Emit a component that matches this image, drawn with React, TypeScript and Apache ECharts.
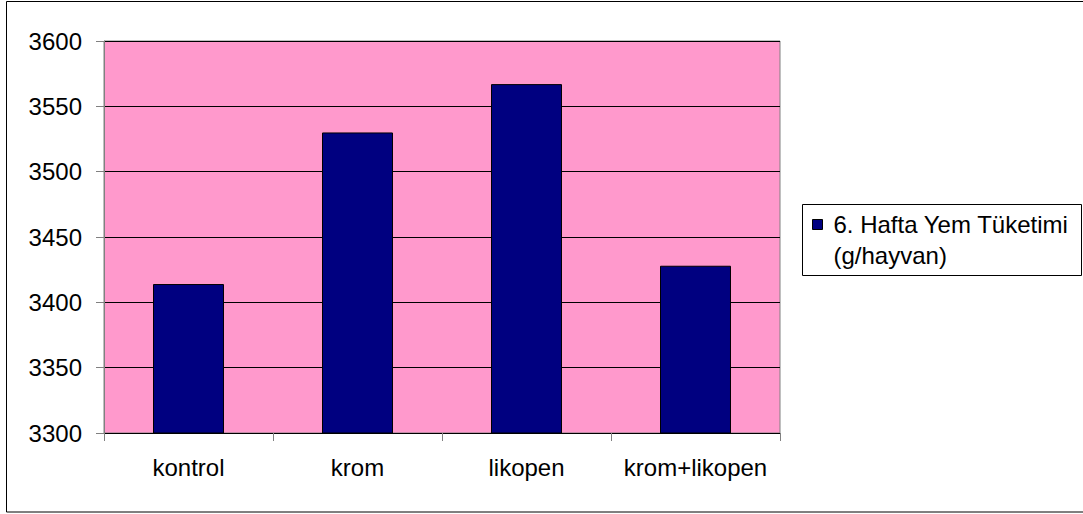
import React, { useEffect, useRef } from "react";
import * as echarts from "echarts";

const categories = ["kontrol", "krom", "likopen", "krom+likopen"];
const seriesName = "6. Hafta Yem Tüketimi (g/hayvan)";
const values = [3414, 3530, 3567, 3428];
const yMin = 3300;
const yMax = 3600;
const yStep = 50;

export default function App() {
  const ref = useRef<HTMLDivElement>(null);
  useEffect(() => {
    if (!ref.current) return;
    const chart = echarts.init(ref.current, undefined, { renderer: "svg" });
    const font = "Liberation Sans, Arial, sans-serif";
    chart.setOption({
      animation: false,
      backgroundColor: "#ffffff",
      grid: {
        left: 104,
        top: 41,
        right: 303,
        bottom: 81,
        show: true,
        backgroundColor: "#FF99CC",
        borderColor: "#808080",
        borderWidth: 1,
      },
      graphic: [
        {
          type: "rect",
          shape: { x: 6.5, y: 1.5, width: 1100, height: 510.5 },
          style: { fill: "none", stroke: "#000", lineWidth: 1 },
          z: 100,
        },
        {
          type: "rect",
          shape: { x: 802.5, y: 204.5, width: 279, height: 71 },
          style: { fill: "#fff", stroke: "#000", lineWidth: 1 },
          z: 1,
        },
      ],
      legend: {
        show: true,
        orient: "vertical",
        left: 812,
        top: 178,
        padding: 0,
        icon: "rect",
        itemWidth: 10,
        itemHeight: 10,
        z: 10,
        formatter: () => " \n6. Hafta Yem Tüketimi\n(g/hayvan)",
        textStyle: {
          fontFamily: font,
          fontSize: 24,
          lineHeight: 31,
          color: "#000",
          padding: [0, 0, 0, 6],
        },
        itemStyle: { borderColor: "#000", borderWidth: 1 },
        data: [seriesName],
      },
      xAxis: {
        type: "category",
        data: categories,
        axisLine: { show: true, lineStyle: { color: "#000", width: 1 } },
        axisTick: { show: true, length: 8, lineStyle: { color: "#808080" } },
        axisLabel: {
          interval: 0,
          margin: 22,
          fontFamily: font,
          fontSize: 24,
          color: "#000",
        },
      },
      yAxis: {
        type: "value",
        min: yMin,
        max: yMax,
        interval: yStep,
        axisLine: { show: true, lineStyle: { color: "#808080" } },
        axisTick: { show: true, length: 8, lineStyle: { color: "#808080" } },
        splitLine: { show: true, lineStyle: { color: "#000", width: 1 } },
        axisLabel: {
          margin: 22,
          fontFamily: font,
          fontSize: 24,
          color: "#000",
          formatter: (v: number) => String(v),
        },
      },
      series: [
        {
          name: seriesName,
          type: "bar",
          data: values,
          barWidth: "42%",
          itemStyle: { color: "#000080", borderColor: "#000", borderWidth: 1 },
        },
      ],
    });
    return () => chart.dispose();
  }, []);
  return (
    <div
      ref={ref}
      style={{ position: "absolute", left: 0, top: 0, width: 1083, height: 514 }}
    />
  );
}
